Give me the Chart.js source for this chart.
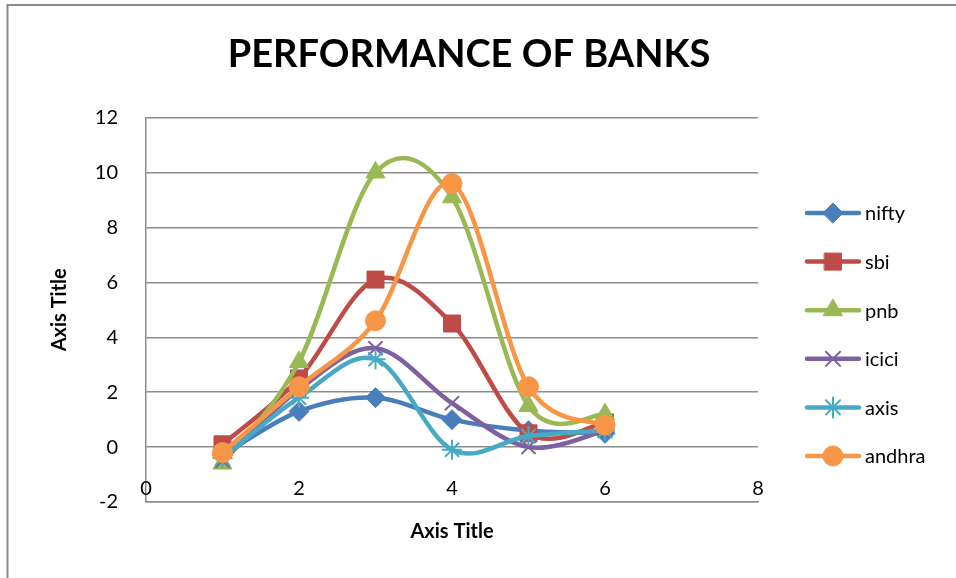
<!DOCTYPE html>
<html>
<head>
<meta charset="utf-8">
<script src="https://cdn.jsdelivr.net/npm/chart.js@4/dist/chart.umd.min.js"></script>
<style>
  html, body { margin: 0; padding: 0; background: #fff; }
</style>
</head>
<body>
<canvas id="chart" width="956" height="578"></canvas>
<script>
// values
const xValues = [1, 2, 3, 4, 5, 6];
const seriesNames = ["nifty", "sbi", "pnb", "icici", "axis", "andhra"];
const nifty = [-0.3, 1.3, 1.8, 1.0, 0.6, 0.5];
const sbi = [0.1, 2.5, 6.1, 4.5, 0.5, 0.9];
const pnb = [-0.6, 3.1, 10.0, 9.1, 1.5, 1.2];
const icici = [-0.5, 2.1, 3.6, 1.6, 0.0, 0.6];
const axis = [-0.4, 1.8, 3.2, -0.1, 0.4, 0.6];
const andhra = [-0.2, 2.2, 4.6, 9.6, 2.2, 0.8];
const xRange = [0, 8];
const yRange = [-2, 12];
const tickStep = 2;

const seriesValues = [nifty, sbi, pnb, icici, axis, andhra];
const seriesColors = ["#4a7ebb", "#be4b48", "#98b954", "#7d60a0", "#46aac5", "#f79646"];
const markerStyles = ["rectRot", "rect", "triangle", "crossRot", "star", "circle"];
const markerSizes = [10, 12, 11, 10, 10, 10];
const markerBorders = [1, 1, 1, 2, 2, 1];

Chart.defaults.font.family = "Lato, 'Open Sans', sans-serif";
Chart.defaults.color = "#000";

const gridGray = "#8c8c8c";

const frame = {
  id: "frame",
  beforeDraw(chart) {
    const ctx = chart.ctx;
    ctx.save();
    ctx.fillStyle = "#fff";
    ctx.fillRect(0, 0, chart.width, chart.height);
    ctx.strokeStyle = "#8a8a8a";
    ctx.lineWidth = 2;
    ctx.strokeRect(7.5, 5, 2000, 2000);
    ctx.restore();
  }
};

// Excel style smoothing: uniform Catmull-Rom control points on the scaled points
const excelSmoothing = {
  id: "excelSmoothing",
  beforeDatasetsDraw(chart) {
    chart.getSortedVisibleDatasetMetas().forEach((meta) => {
      const pts = meta.data;
      pts.forEach((pt, i) => {
        const prev = pts[i - 1] || pt;
        const next = pts[i + 1] || pt;
        const dx = (next.x - prev.x) / 6;
        const dy = (next.y - prev.y) / 6;
        pt.cp1x = pt.x - dx;
        pt.cp1y = pt.y - dy;
        pt.cp2x = pt.x + dx;
        pt.cp2y = pt.y + dy;
      });
      meta.dataset._pointsUpdated = true;
    });
  }
};

// x tick labels sit just above the bottom axis line, as in the original
const innerXLabels = {
  id: "innerXLabels",
  afterDraw(chart) {
    const scale = chart.scales.x;
    const ctx = chart.ctx;
    ctx.save();
    ctx.fillStyle = "#000";
    ctx.font = "20px Lato";
    ctx.textAlign = "center";
    ctx.textBaseline = "middle";
    scale.ticks.forEach((tick) => {
      ctx.fillText(String(tick.value), scale.getPixelForValue(tick.value), chart.chartArea.bottom - 13);
    });
    ctx.restore();
  }
};

const bankLegend = {
  id: "bankLegend",
  afterDraw(chart) {
    const ctx = chart.ctx;
    chart.data.datasets.forEach((ds, i) => {
      const y = 213 + i * 48.6;
      ctx.save();
      ctx.strokeStyle = ds.borderColor;
      ctx.lineWidth = ds.borderWidth;
      ctx.lineCap = "round";
      ctx.beginPath();
      ctx.moveTo(807, y);
      ctx.lineTo(859, y);
      ctx.stroke();
      ctx.fillStyle = ds.pointBackgroundColor;
      ctx.strokeStyle = ds.pointBorderColor;
      ctx.lineWidth = ds.pointBorderWidth;
      Chart.helpers.drawPoint(ctx, {
        pointStyle: ds.pointStyle,
        radius: ds.pointRadius,
        rotation: 0,
        borderWidth: ds.pointBorderWidth
      }, 833, y);
      ctx.fillStyle = "#000";
      ctx.font = "20px Lato";
      ctx.textBaseline = "middle";
      ctx.fillText(ds.label, 865, y + 1);
      ctx.restore();
    });
  }
};

const datasets = seriesNames.map((name, i) => ({
  label: name,
  data: xValues.map((x, j) => ({ x: x, y: seriesValues[i][j] })),
  borderColor: seriesColors[i],
  backgroundColor: seriesColors[i],
  borderWidth: 4.5,
  tension: 0.4,
  fill: false,
  pointStyle: markerStyles[i],
  pointRadius: markerSizes[i],
  pointBackgroundColor: seriesColors[i],
  pointBorderColor: seriesColors[i],
  pointBorderWidth: markerBorders[i],
  order: seriesNames.length - 1 - i
}));

new Chart(document.getElementById("chart"), {
  type: "line",
  data: { datasets: datasets },
  options: {
    responsive: false,
    animation: false,
    layout: { padding: { left: 0, right: 18, top: 0, bottom: 0 } },
    plugins: {
      legend: { display: false },
      tooltip: { enabled: false },
      title: {
        display: true,
        text: "PERFORMANCE OF BANKS",
        color: "#000",
        font: { size: 38, weight: "bold" },
        padding: { top: 32, bottom: 40 }
      }
    },
    scales: {
      x: {
        type: "linear",
        min: xRange[0],
        max: xRange[1],
        ticks: { stepSize: tickStep, display: false },
        grid: { display: false },
        border: { display: true, color: gridGray, width: 1.5 },
        title: {
          display: true,
          text: "Axis Title",
          color: "#000",
          font: { size: 20, weight: "bold" },
          padding: { top: 0, bottom: 34 }
        },
        afterFit(scale) { scale.height = 76; }
      },
      y: {
        min: yRange[0],
        max: yRange[1],
        ticks: { stepSize: tickStep, padding: 28, font: { size: 20 }, color: "#000" },
        grid: { color: gridGray, lineWidth: 1.5, drawTicks: false },
        border: { display: true, color: gridGray, width: 1.5 },
        title: {
          display: true,
          text: "Axis Title",
          color: "#000",
          font: { size: 20, weight: "bold" },
          padding: { top: 48, bottom: 0 }
        },
        afterFit(scale) { scale.width = 146; }
      },
      legendSpace: {
        type: "linear",
        position: "right",
        grid: { display: false },
        border: { display: false },
        ticks: { display: false },
        afterFit(scale) { scale.width = 180; }
      }
    }
  },
  plugins: [frame, excelSmoothing, innerXLabels, bankLegend]
});
</script>
</body>
</html>
